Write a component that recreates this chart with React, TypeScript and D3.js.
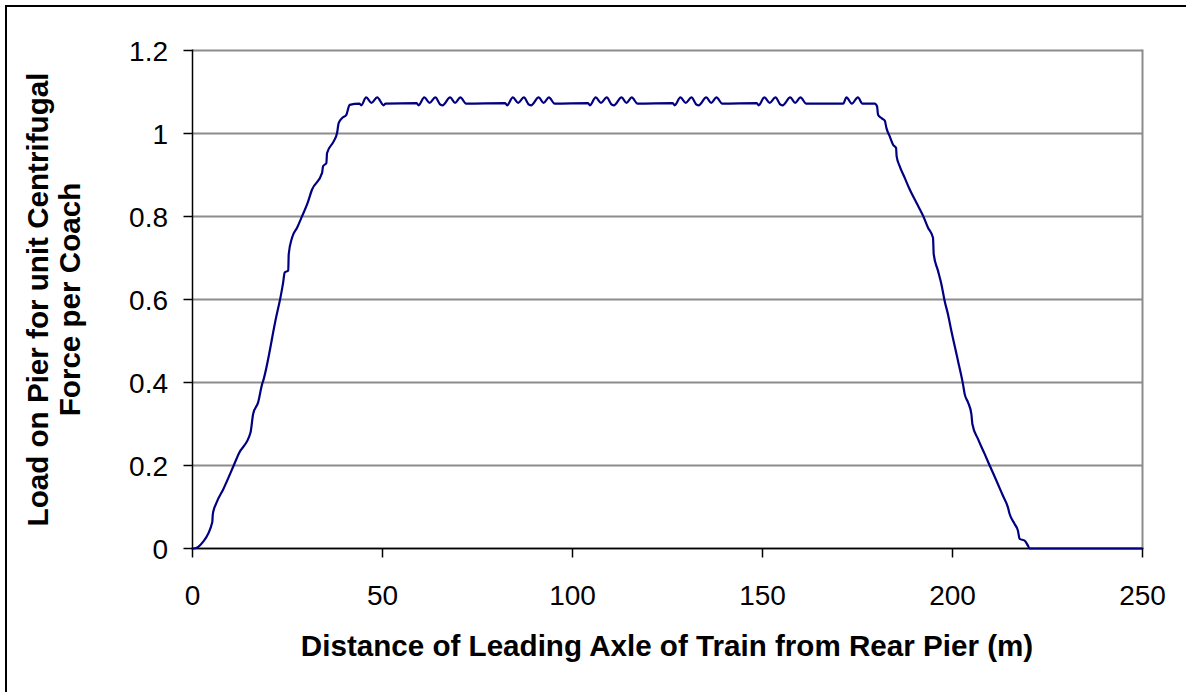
import React from "react";
import * as d3 from "d3";

// Distance of leading axle (m) vs. load on pier, read as [x, y] pairs.
const rampUp: [number, number][] = [
  [0, 0], [0.4, 0.0], [2.6, 0.014], [5.2, 0.063], [5.35, 0.083], [6.3, 0.11],
  [8.1, 0.143], [10.7, 0.197], [12.2, 0.229], [15.25, 0.279], [15.96, 0.324],
  [17.27, 0.352], [18.32, 0.396], [18.6, 0.404], [22.08, 0.56], [22.27, 0.568],
  [23.13, 0.604], [23.84, 0.64], [24.26, 0.665], [25.2, 0.67], [25.32, 0.709],
  [26.2, 0.749], [27.52, 0.773], [28.84, 0.801], [30.15, 0.829], [31.47, 0.865],
  [34.1, 0.905], [34.36, 0.921], [35.23, 0.929], [35.41, 0.953], [37.15, 0.981],
  [38.04, 1.001], [38.46, 1.025], [39.35, 1.037], [40.48, 1.045], [41.35, 1.069],
];

const plateau: [number, number][] = [
  [43.9, 1.072], [44.4, 1.068], [45.7, 1.087], [47.1, 1.074], [48.6, 1.087], [50.3, 1.068], [50.8, 1.072],
  [59.0, 1.073], [59.5, 1.068], [61.0, 1.087], [62.4, 1.074], [63.9, 1.087], [65.3, 1.069], [65.8, 1.068],
  [67.8, 1.087], [69.1, 1.074], [70.5, 1.087], [72.0, 1.072],
  [82.3, 1.073], [82.8, 1.068], [84.3, 1.087], [85.7, 1.074], [87.2, 1.087], [88.6, 1.069], [89.1, 1.068],
  [91.1, 1.087], [92.4, 1.074], [93.8, 1.087], [95.3, 1.072],
  [104.1, 1.073], [104.6, 1.068], [106.1, 1.087], [107.5, 1.074], [109.0, 1.087], [110.4, 1.069], [110.9, 1.068],
  [112.9, 1.087], [114.2, 1.074], [115.6, 1.087], [117.1, 1.072],
  [126.4, 1.073], [126.9, 1.068], [128.4, 1.087], [129.8, 1.074], [131.3, 1.087], [132.7, 1.069], [133.2, 1.068],
  [135.2, 1.087], [136.5, 1.074], [137.9, 1.087], [139.4, 1.072],
  [148.5, 1.073], [149.0, 1.068], [150.5, 1.087], [151.9, 1.074], [153.4, 1.087], [154.8, 1.069], [155.3, 1.068],
  [157.3, 1.087], [158.6, 1.074], [160.0, 1.087], [161.5, 1.072],
  [171.2, 1.072], [172.1, 1.087], [173.5, 1.072], [175.1, 1.087], [176.3, 1.072], [179.55, 1.072],
];

const rampDown: [number, number][] = [
  [180.15, 1.065], [180.41, 1.045], [181.31, 1.037], [182.18, 1.031], [182.62, 1.013],
  [183.49, 0.993], [184.36, 0.973], [185.15, 0.965], [185.3, 0.945], [186.12, 0.921],
  [187.43, 0.893], [188.75, 0.865], [190.51, 0.833], [192.24, 0.802], [193.56, 0.773],
  [194.87, 0.749], [195.06, 0.709], [196.19, 0.669], [197.08, 0.637], [197.95, 0.596],
  [198.82, 0.564], [199.71, 0.524], [201.45, 0.452], [202.76, 0.396], [203.21, 0.372],
  [204.08, 0.352], [204.97, 0.324], [205.23, 0.3], [206.7, 0.264], [208.46, 0.228],
  [209.78, 0.2], [211.54, 0.164], [213.28, 0.127], [214.59, 0.099], [215.04, 0.083],
  [216.35, 0.059], [217.22, 0.043], [217.67, 0.023], [218.98, 0.019], [219.85, 0.007],
  [220.29, 0], [250, 0],
];

const xTicks = [0, 50, 100, 150, 200, 250];
const yTicks = [0, 0.2, 0.4, 0.6, 0.8, 1, 1.2];

const xTitle = "Distance of Leading Axle of Train from Rear Pier (m)";
const yTitleLines = ["Load on Pier for unit Centrifugal", "Force per Coach"];

const W = 1186;
const H = 692;
const plot = { left: 192.5, right: 1142.5, top: 50.5, bottom: 548.5 };
const FONT = "'Liberation Sans', Arial, sans-serif";

export default function App() {
  const x = d3.scaleLinear().domain([0, 250]).range([plot.left, plot.right]);
  const y = d3.scaleLinear().domain([0, 1.2]).range([plot.bottom, plot.top]);

  const series = [...rampUp, ...plateau, ...rampDown];
  const line = d3
    .line<[number, number]>()
    .x((d) => x(d[0]))
    .y((d) => y(d[1]))
    .curve(d3.curveMonotoneX);

  const fmt = (v: number) => (v === 0 || v === 1 ? String(v) : d3.format(".1f")(v));

  return (
    <svg
      width={W}
      height={H}
      style={{ position: "absolute", left: 0, top: 0, background: "#fff" }}
      fontFamily={FONT}
    >
      <rect x={0} y={0} width={W} height={H} fill="#fff" />
      <rect x={6} y={6} width={W + 20} height={H + 20} fill="none" stroke="#000" strokeWidth={2} />

      {/* horizontal gridlines */}
      {yTicks.map((t) => (
        <line
          key={"g" + t}
          x1={plot.left}
          x2={plot.right}
          y1={y(t)}
          y2={y(t)}
          stroke="#8c8c8c"
          strokeWidth={2}
        />
      ))}
      {/* right edge of plot area */}
      <line x1={plot.right} x2={plot.right} y1={plot.top - 1} y2={plot.bottom} stroke="#8c8c8c" strokeWidth={2} />

      {/* axes */}
      <line x1={plot.left} x2={plot.left} y1={plot.top - 1} y2={plot.bottom + 1} stroke="#000" strokeWidth={1.5} />
      <line x1={plot.left - 1} x2={plot.right + 1} y1={plot.bottom} y2={plot.bottom} stroke="#000" strokeWidth={1.5} />

      {yTicks.map((t) => (
        <g key={"yt" + t}>
          <line x1={plot.left - 9} x2={plot.left} y1={y(t)} y2={y(t)} stroke="#000" strokeWidth={1.5} />
          <text x={168} y={y(t) + 10.5} textAnchor="end" fontSize={28} fill="#000">
            {fmt(t)}
          </text>
        </g>
      ))}

      {xTicks.map((t) => (
        <g key={"xt" + t}>
          <line x1={x(t)} x2={x(t)} y1={plot.bottom} y2={plot.bottom + 9} stroke="#000" strokeWidth={1.5} />
          <text x={x(t)} y={605} textAnchor="middle" fontSize={28} fill="#000">
            {t}
          </text>
        </g>
      ))}

      <path d={line(series) || ""} fill="none" stroke="#000080" strokeWidth={2.2} strokeLinejoin="round" />

      <text x={667} y={656} textAnchor="middle" fontSize={29.6} fontWeight="bold" fill="#000">
        {xTitle}
      </text>

      {yTitleLines.map((s, i) => (
        <text
          key={s}
          transform={`translate(${48 + i * 32},${(plot.top + plot.bottom) / 2}) rotate(-90)`}
          textAnchor="middle"
          fontSize={29.6}
          fontWeight="bold"
          fill="#000"
        >
          {s}
        </text>
      ))}
    </svg>
  );
}
